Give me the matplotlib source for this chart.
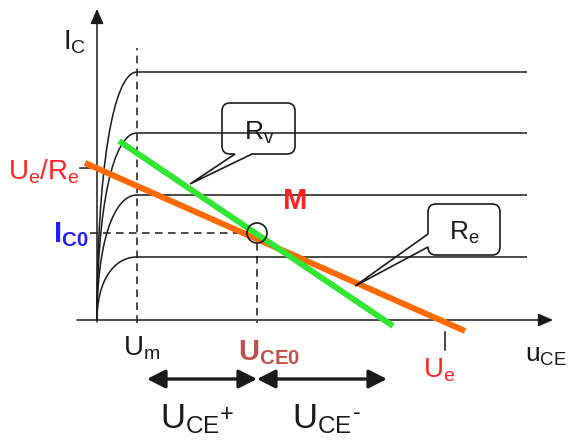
import numpy as np
import matplotlib.pyplot as plt
from matplotlib.path import Path
from matplotlib.patches import PathPatch, Circle

plt.rcParams["font.family"] = ["Liberation Sans", "DejaVu Sans"]
plt.rcParams["mathtext.fontset"] = "custom"
plt.rcParams["mathtext.rm"] = "Liberation Sans"
plt.rcParams["mathtext.it"] = "Liberation Sans:italic"
plt.rcParams["mathtext.bf"] = "Liberation Sans:bold"

# output characteristics (collector current plateaus), schematic units
ic_levels = [63, 125, 187, 248]
u_knee = 40
u_sat_end = 430

# operating point and load lines
U_m = 40
U_CE0 = 160
I_C0 = 87
U_e = 348
Ue_Re = 152
re_line_u = [-12, 368]
re_line_i = [157, -11]
rv_line_u = [22, 296]
rv_line_i = [179, -6]

INK = "#1a1a1a"
RED = "#ff2222"
ORANGE = "#ff6a00"
GREEN = "#33e633"
BLUE = "#1f1fff"
BROWN = "#c0504d"

fig = plt.figure(figsize=(5.69, 4.41), dpi=100)
ax = fig.add_axes([0, 0, 1, 1])
ax.set_xlim(-97, 472)
ax.set_ylim(-121, 320)
ax.axis("off")

# axes with arrows
arrow_kw = dict(arrowstyle="-|>,head_length=0.45,head_width=0.2", color=INK,
                lw=1.1, mutation_scale=20, shrinkA=0, shrinkB=0)
ax.annotate("", xy=(456, 0), xytext=(-20, 0), arrowprops=arrow_kw)
ax.annotate("", xy=(0, 311), xytext=(0, -2), arrowprops=arrow_kw)

# characteristic curves
for ic in ic_levels:
    verts = [(0, 0), (0, 0.6 * ic), (0.4 * u_knee, ic), (u_knee, ic), (u_sat_end, ic)]
    codes = [Path.MOVETO, Path.CURVE4, Path.CURVE4, Path.CURVE4, Path.LINETO]
    ax.add_patch(PathPatch(Path(verts, codes), fill=False, ec=INK, lw=1.1, zorder=2))

# dashed helper lines
dash = dict(color=INK, lw=1.1, ls=(0, (5, 3.5)), zorder=2)
ax.plot([U_m, U_m], [-3, 272], **dash)
ax.plot([-7, U_CE0 - 10], [I_C0, I_C0], **dash)
ax.plot([U_CE0, U_CE0], [I_C0 - 10, -3], **dash)

# tick marks
ax.plot([-17, 3], [Ue_Re, Ue_Re], color=INK, lw=1.1)
ax.plot([U_e, U_e], [-12, -30], color=INK, lw=1.1)

# load lines
ax.plot(re_line_u, re_line_i, color=ORANGE, lw=4.3, solid_capstyle="butt", zorder=3)
ax.plot(rv_line_u, rv_line_i, color=GREEN, lw=4.3, solid_capstyle="butt", zorder=4)

# operating point
ax.add_patch(Circle((U_CE0, I_C0), 10, fill=False, ec=INK, lw=1.2, zorder=5))


def callout(x0, x1, y0, y1, side, a, b, tip, r=8):
    verts = [(x0 + r, y0)]
    codes = [Path.MOVETO]
    if side == "bottom":
        verts += [(a, y0), tip, (b, y0)]
        codes += [Path.LINETO] * 3
    verts += [(x1 - r, y0), (x1, y0), (x1, y0 + r), (x1, y1 - r), (x1, y1), (x1 - r, y1),
              (x0 + r, y1), (x0, y1), (x0, y1 - r)]
    codes += [Path.LINETO, Path.CURVE3, Path.CURVE3, Path.LINETO, Path.CURVE3, Path.CURVE3,
              Path.LINETO, Path.CURVE3, Path.CURVE3]
    if side == "left":
        verts += [(x0, a), tip, (x0, b)]
        codes += [Path.LINETO] * 3
    verts += [(x0, y0 + r), (x0, y0), (x0 + r, y0)]
    codes += [Path.LINETO, Path.CURVE3, Path.CURVE3]
    ax.add_patch(PathPatch(Path(verts, codes), fill=False, ec=INK, lw=1.2, zorder=6))


callout(125, 198, 166, 217, "bottom", 138, 155, (93, 136))
callout(331, 403, 65, 116, "left", 86, 73, (258, 34))

# labels
ax.text(-34, 270, r"$\mathregular{I_C}$", fontsize=20, color=INK)
ax.text(-89, 140, r"$\mathregular{U_e/R_e}$", fontsize=20, color=RED)
ax.text(-44, 78, r"$\mathregular{I_{C0}}$", fontsize=21, color=BLUE, fontweight="bold")
ax.text(186, 111, "M", fontsize=21, color=RED, fontweight="bold")
ax.text(147, 180, r"$\mathregular{R_v}$", fontsize=19, color=INK)
ax.text(352, 80, r"$\mathregular{R_e}$", fontsize=19, color=INK)
ax.text(26, -35, r"$\mathregular{U_m}$", fontsize=20, color=INK)
ax.text(141, -40, r"$\mathregular{U_{CE0}}$", fontsize=21, color=BROWN, fontweight="bold")
ax.text(326, -58, r"$\mathregular{U_e}$", fontsize=20, color=RED)
ax.text(428, -42, r"$\mathregular{u_{CE}}$", fontsize=19, color=INK)

t_plus = ax.text(63, -108, r"$\mathregular{U_{CE}}$", fontsize=25, color=INK)
t_minus = ax.text(195, -108, r"$\mathregular{U_{CE}}$", fontsize=25, color=INK)
ax.annotate("+", xy=(1.0, 0.62), xycoords=t_plus, fontsize=17, color=INK,
            ha="left", va="center")
ax.annotate("-", xy=(1.02, 0.68), xycoords=t_minus, fontsize=17, color=INK,
            ha="left", va="center")

# swing arrows
swing = dict(arrowstyle="<|-|>,head_length=0.55,head_width=0.28", color=INK,
             lw=2.4, mutation_scale=20, shrinkA=0, shrinkB=0)
ax.annotate("", xy=(U_CE0, -59), xytext=(50, -59), arrowprops=swing)
ax.annotate("", xy=(290, -59), xytext=(U_CE0, -59), arrowprops=swing)

fig.savefig("out.png", dpi=100)
